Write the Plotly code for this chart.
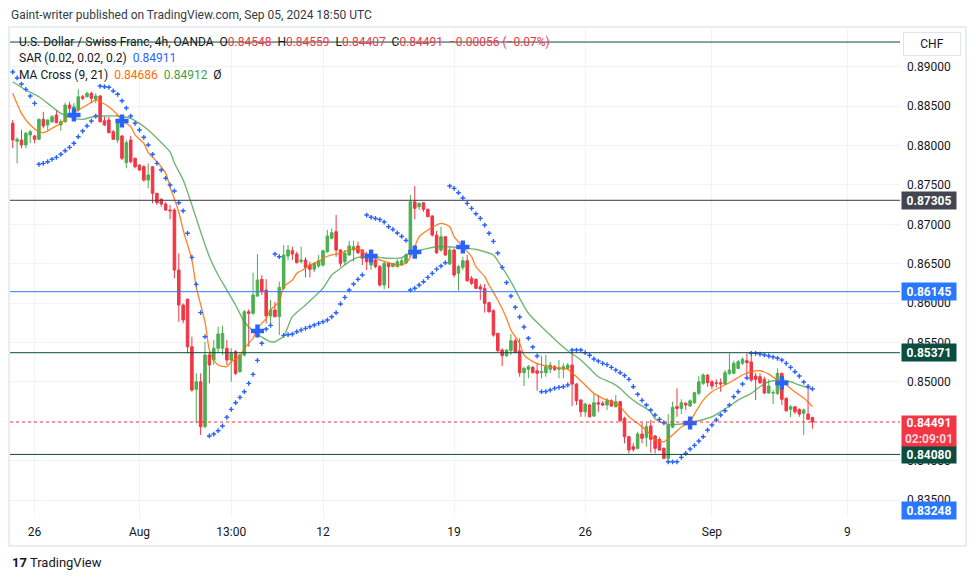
import plotly.graph_objects as go

# ---------------- data (USD/CHF 4h, OANDA) ----------------
# bar index: 0 = Aug 12 01:00 UTC candle, 30 candles per trading week
bar_index = list(range(-71, 113))

opens = [
    0.88282, 0.88053, 0.88070, 0.88007, 0.88134, 0.88121, 0.88079, 0.88332, 0.88260, 0.88302,
    0.88387, 0.88260, 0.88302, 0.88514, 0.88349, 0.88450, 0.88619, 0.88619, 0.88662, 0.88586,
    0.88628, 0.88315, 0.88324, 0.88175, 0.88070, 0.88121, 0.87782, 0.88070, 0.87838, 0.87752,
    0.87731, 0.87562, 0.87731, 0.87393, 0.87317, 0.87257, 0.87181, 0.87181, 0.86420, 0.85976,
    0.86048, 0.85447, 0.84906, 0.85002, 0.84432, 0.85342, 0.85278, 0.85427, 0.85427, 0.85427,
    0.85278, 0.85383, 0.85130, 0.85342, 0.85891, 0.85870, 0.86090, 0.86302, 0.86166, 0.85837,
    0.85913, 0.85828, 0.86188, 0.86598, 0.86665, 0.86623, 0.86526, 0.86547, 0.86484, 0.86429,
    0.86471, 0.86484, 0.86652, 0.86822, 0.86907, 0.86674, 0.86526, 0.86611, 0.86674, 0.86725,
    0.86674, 0.86611, 0.86484, 0.86547, 0.86463, 0.86230, 0.86505, 0.86463, 0.86463, 0.86484,
    0.86513, 0.86611, 0.87286, 0.87223, 0.87274, 0.87190, 0.87105, 0.86864, 0.86674, 0.86843,
    0.86496, 0.86674, 0.86378, 0.86454, 0.86538, 0.86315, 0.86302, 0.86208, 0.86188, 0.86005,
    0.85904, 0.85617, 0.85405, 0.85332, 0.85396, 0.85523, 0.85396, 0.85117, 0.85160, 0.85185,
    0.85142, 0.85117, 0.85117, 0.85160, 0.85193, 0.85160, 0.85160, 0.85173, 0.85214, 0.84973,
    0.84770, 0.84621, 0.84707, 0.84567, 0.84736, 0.84728, 0.84707, 0.84761, 0.84685, 0.84749,
    0.84538, 0.84305, 0.84178, 0.84157, 0.84339, 0.84297, 0.84441, 0.84314, 0.84272, 0.84157,
    0.84030, 0.84424, 0.84685, 0.84664, 0.84728, 0.84694, 0.84736, 0.84855, 0.84982, 0.85088,
    0.85002, 0.84990, 0.84990, 0.84973, 0.85109, 0.85109, 0.85172, 0.85236, 0.85269, 0.85253,
    0.85075, 0.85066, 0.85033, 0.84859, 0.84859, 0.84855, 0.85109, 0.84791, 0.84652, 0.84685,
    0.84652, 0.84601, 0.84592, 0.84548,
]
highs = [
    0.88324, 0.88104, 0.88197, 0.88175, 0.88197, 0.88134, 0.88345, 0.88428, 0.88332, 0.88387,
    0.88450, 0.88332, 0.88543, 0.88555, 0.88539, 0.88713, 0.88641, 0.88683, 0.88683, 0.88662,
    0.88641, 0.88365, 0.88365, 0.88197, 0.88302, 0.88134, 0.88070, 0.88121, 0.87845, 0.87761,
    0.87752, 0.87774, 0.87740, 0.87401, 0.87330, 0.87286, 0.87245, 0.87203, 0.86632, 0.85997,
    0.86061, 0.85574, 0.85109, 0.85109, 0.85510, 0.85383, 0.85532, 0.85700, 0.85713, 0.85532,
    0.85427, 0.85405, 0.85363, 0.85913, 0.85921, 0.86386, 0.86623, 0.86357, 0.86302, 0.86039,
    0.86018, 0.86272, 0.86737, 0.86737, 0.86716, 0.86652, 0.86716, 0.86581, 0.86526, 0.86522,
    0.86611, 0.86674, 0.86928, 0.86949, 0.87118, 0.86687, 0.86674, 0.86792, 0.86792, 0.86780,
    0.86683, 0.86652, 0.86611, 0.86581, 0.86484, 0.86526, 0.86513, 0.86509, 0.86556, 0.86581,
    0.86632, 0.87372, 0.87486, 0.87274, 0.87283, 0.87203, 0.87118, 0.86919, 0.86970, 0.86852,
    0.86708, 0.86695, 0.86484, 0.86589, 0.86611, 0.86344, 0.86315, 0.86242, 0.86242, 0.86018,
    0.85921, 0.85621, 0.85427, 0.85414, 0.85608, 0.85554, 0.85554, 0.85193, 0.85214, 0.85202,
    0.85236, 0.85329, 0.85341, 0.85253, 0.85214, 0.85278, 0.85236, 0.85240, 0.85405, 0.84986,
    0.84783, 0.84736, 0.84719, 0.84846, 0.84834, 0.84757, 0.84795, 0.84779, 0.84834, 0.84761,
    0.84558, 0.84314, 0.84221, 0.84368, 0.84483, 0.84483, 0.84517, 0.84327, 0.84297, 0.84170,
    0.84592, 0.84749, 0.84918, 0.84779, 0.84749, 0.84779, 0.84876, 0.85075, 0.85109, 0.85096,
    0.85024, 0.85033, 0.85045, 0.85151, 0.85363, 0.85269, 0.85278, 0.85312, 0.85363, 0.85342,
    0.85113, 0.85109, 0.85066, 0.85033, 0.84897, 0.85172, 0.85117, 0.84804, 0.84707, 0.84694,
    0.84664, 0.84664, 0.84918, 0.84559,
]
lows = [
    0.87965, 0.87774, 0.87965, 0.87965, 0.88032, 0.88028, 0.88070, 0.88219, 0.88197, 0.88282,
    0.88282, 0.88188, 0.88290, 0.88374, 0.88324, 0.88428, 0.88577, 0.88611, 0.88535, 0.88535,
    0.88290, 0.88248, 0.88155, 0.88070, 0.88032, 0.87816, 0.87711, 0.87774, 0.87711, 0.87676,
    0.87540, 0.87457, 0.87266, 0.87245, 0.87223, 0.87172, 0.87063, 0.86315, 0.85764, 0.85744,
    0.85363, 0.84875, 0.84475, 0.84327, 0.84412, 0.84982, 0.85215, 0.85363, 0.85342, 0.85215,
    0.85002, 0.85088, 0.85117, 0.85320, 0.85447, 0.85849, 0.86081, 0.86103, 0.85744, 0.85744,
    0.85820, 0.85595, 0.86166, 0.86547, 0.86547, 0.86505, 0.86505, 0.86327, 0.86327, 0.86395,
    0.86446, 0.86463, 0.86640, 0.86810, 0.86589, 0.86463, 0.86484, 0.86598, 0.86526, 0.86623,
    0.86484, 0.86420, 0.86420, 0.86442, 0.86208, 0.86175, 0.86188, 0.86454, 0.86454, 0.86471,
    0.86496, 0.86581, 0.87063, 0.87181, 0.87160, 0.87089, 0.86843, 0.86623, 0.86652, 0.86598,
    0.86484, 0.86327, 0.86157, 0.86420, 0.86272, 0.86230, 0.86175, 0.86039, 0.85879, 0.85879,
    0.85574, 0.85383, 0.85202, 0.85320, 0.85342, 0.85363, 0.85066, 0.84948, 0.85046, 0.85109,
    0.84888, 0.85046, 0.85066, 0.85113, 0.85138, 0.85046, 0.85046, 0.85160, 0.84694, 0.84707,
    0.84558, 0.84558, 0.84550, 0.84554, 0.84621, 0.84694, 0.84643, 0.84685, 0.84677, 0.84495,
    0.84221, 0.84094, 0.84115, 0.84144, 0.84221, 0.84178, 0.84102, 0.84094, 0.84127, 0.84018,
    0.83975, 0.84412, 0.84558, 0.84592, 0.84643, 0.84685, 0.84719, 0.84834, 0.84961, 0.84939,
    0.84906, 0.84931, 0.84875, 0.84961, 0.85088, 0.85100, 0.85160, 0.85215, 0.85066, 0.85002,
    0.84770, 0.84973, 0.84846, 0.84850, 0.84719, 0.84834, 0.84707, 0.84621, 0.84550, 0.84592,
    0.84558, 0.84327, 0.84517, 0.84407,
]
closes = [
    0.88070, 0.88079, 0.88007, 0.88155, 0.88175, 0.88079, 0.88332, 0.88248, 0.88324, 0.88365,
    0.88290, 0.88302, 0.88514, 0.88472, 0.88492, 0.88619, 0.88599, 0.88662, 0.88599, 0.88628,
    0.88302, 0.88260, 0.88163, 0.88079, 0.88282, 0.87838, 0.88036, 0.87794, 0.87731, 0.87689,
    0.87562, 0.87626, 0.87393, 0.87274, 0.87257, 0.87181, 0.87172, 0.86420, 0.85976, 0.85786,
    0.85447, 0.84897, 0.85002, 0.84432, 0.85342, 0.85215, 0.85427, 0.85608, 0.85617, 0.85278,
    0.85363, 0.85109, 0.85342, 0.85891, 0.85870, 0.86103, 0.86293, 0.86145, 0.85837, 0.85913,
    0.85828, 0.86200, 0.86611, 0.86674, 0.86623, 0.86513, 0.86547, 0.86454, 0.86429, 0.86505,
    0.86538, 0.86665, 0.86852, 0.86894, 0.86674, 0.86505, 0.86632, 0.86725, 0.86716, 0.86640,
    0.86569, 0.86526, 0.86569, 0.86463, 0.86230, 0.86505, 0.86463, 0.86505, 0.86526, 0.86538,
    0.86611, 0.87286, 0.87203, 0.87266, 0.87190, 0.87097, 0.86864, 0.86640, 0.86843, 0.86611,
    0.86674, 0.86357, 0.86463, 0.86538, 0.86284, 0.86251, 0.86188, 0.86179, 0.85997, 0.85891,
    0.85595, 0.85396, 0.85332, 0.85405, 0.85523, 0.85376, 0.85117, 0.85173, 0.85193, 0.85117,
    0.85109, 0.85129, 0.85193, 0.85214, 0.85160, 0.85173, 0.85193, 0.85214, 0.84973, 0.84761,
    0.84621, 0.84719, 0.84558, 0.84736, 0.84719, 0.84707, 0.84761, 0.84694, 0.84749, 0.84508,
    0.84305, 0.84136, 0.84144, 0.84339, 0.84284, 0.84432, 0.84272, 0.84157, 0.84136, 0.84030,
    0.84453, 0.84677, 0.84664, 0.84736, 0.84707, 0.84761, 0.84863, 0.85002, 0.85088, 0.84990,
    0.84948, 0.84982, 0.84973, 0.85117, 0.85151, 0.85236, 0.85257, 0.85287, 0.85244, 0.85024,
    0.85033, 0.84990, 0.84859, 0.84948, 0.84863, 0.85109, 0.84779, 0.84634, 0.84685, 0.84621,
    0.84592, 0.84643, 0.84526, 0.84491,
]

# Parabolic SAR (0.02, 0.02, 0.2), one value per bar
sar_values = [
    0.88933, 0.88857, 0.88780, 0.88713, 0.88628, 0.88535, 0.87762, 0.87774, 0.87795, 0.87825,
    0.87850, 0.87889, 0.87934, 0.87977, 0.88028, 0.88112, 0.88184, 0.88248, 0.88311, 0.88374,
    0.88755, 0.88746, 0.88739, 0.88692, 0.88650, 0.88568, 0.88476, 0.88374, 0.88282, 0.88197,
    0.88104, 0.88007, 0.87889, 0.87774, 0.87689, 0.87584, 0.87499, 0.87423, 0.87274, 0.87172,
    0.86886, 0.86581, 0.86238, 0.85879, 0.85574, 0.84314, 0.84339, 0.84381, 0.84441, 0.84551,
    0.84652, 0.84736, 0.84804, 0.84876, 0.84982, 0.85096, 0.85274, 0.85490, 0.85671, 0.85718,
    0.86623, 0.86589, 0.85591, 0.85599, 0.85608, 0.85637, 0.85659, 0.85680, 0.85700, 0.85722,
    0.85743, 0.85763, 0.85785, 0.85827, 0.85878, 0.85989, 0.86073, 0.86166, 0.86242, 0.86302,
    0.86357, 0.87118, 0.87089, 0.87074, 0.87061, 0.87029, 0.86970, 0.86935, 0.86890, 0.86846,
    0.86795, 0.86166, 0.86188, 0.86230, 0.86272, 0.86327, 0.86378, 0.86432, 0.86471, 0.86513,
    0.87486, 0.87456, 0.87401, 0.87334, 0.87266, 0.87203, 0.87134, 0.87076, 0.86991, 0.86886,
    0.86784, 0.86636, 0.86454, 0.86261, 0.86090, 0.85947, 0.85824, 0.85697, 0.85554, 0.85443,
    0.85329, 0.84876, 0.84878, 0.84897, 0.84918, 0.84931, 0.84939, 0.84961, 0.85405, 0.85405,
    0.85405, 0.85371, 0.85338, 0.85291, 0.85265, 0.85236, 0.85219, 0.85185, 0.85151, 0.85117,
    0.85081, 0.85033, 0.84939, 0.84843, 0.84766, 0.84707, 0.84643, 0.84580, 0.84525, 0.84482,
    0.83987, 0.83987, 0.83987, 0.84043, 0.84094, 0.84148, 0.84195, 0.84250, 0.84305, 0.84390,
    0.84453, 0.84517, 0.84580, 0.84635, 0.84707, 0.84812, 0.84876, 0.84973, 0.85050, 0.85363,
    0.85363, 0.85354, 0.85342, 0.85329, 0.85316, 0.85300, 0.85278, 0.85236, 0.85185, 0.85130,
    0.85075, 0.84999, 0.84942, 0.84911,
]

ma_fast_x = [-71, -69, -67, -65, -64, -62, -60, -58, -56, -54, -52, -51, -49, -47, -46, -44, -43,
             -41, -40, -38, -36, -35, -34, -33, -32, -30, -29, -27, -26, -25, -24, -22, -21, -19,
             -18, -16, -15, -13, -12, -10, -9, -7, -6, -4, -3, -1, 0, 2, 4, 6, 8, 10, 12, 15, 17,
             19, 20, 21, 22, 24, 26, 27, 29, 30, 32, 34, 35, 37, 38, 40, 42, 43, 45, 46, 48, 50,
             53, 55, 56, 58, 60, 62, 64, 66, 68, 70, 72, 74, 76, 78, 80, 82, 84, 85, 87, 89, 92,
             94, 96, 98, 100, 102, 104, 106, 108, 110, 111, 112]
ma_fast_y = [0.88662, 0.88408, 0.88260, 0.88175, 0.88163, 0.88219, 0.88282, 0.88387, 0.88450,
             0.88514, 0.88577, 0.88555, 0.88492, 0.88387, 0.88315, 0.88239, 0.88134, 0.88028,
             0.87909, 0.87794, 0.87647, 0.87473, 0.87321, 0.87156, 0.86928, 0.86547, 0.86204,
             0.85760, 0.85405, 0.85278, 0.85215, 0.85193, 0.85257, 0.85320, 0.85427, 0.85554,
             0.85681, 0.85808, 0.85913, 0.86018, 0.86208, 0.86293, 0.86378, 0.86442, 0.86484,
             0.86526, 0.86569, 0.86611, 0.86632, 0.86674, 0.86695, 0.86611, 0.86569, 0.86513,
             0.86484, 0.86505, 0.86589, 0.86716, 0.86843, 0.86928, 0.86991, 0.87013, 0.86970,
             0.86843, 0.86716, 0.86589, 0.86462, 0.86335, 0.86230, 0.86039, 0.85808, 0.85659,
             0.85490, 0.85342, 0.85257, 0.85215, 0.85185, 0.85173, 0.85160, 0.85066, 0.84961,
             0.84855, 0.84792, 0.84749, 0.84685, 0.84558, 0.84475, 0.84390, 0.84263, 0.84241,
             0.84327, 0.84428, 0.84495, 0.84592, 0.84770, 0.84876, 0.84961, 0.85024, 0.85088,
             0.85130, 0.85142, 0.85100, 0.85024, 0.84961, 0.84872, 0.84796, 0.84745, 0.84686]

ma_slow_x = [-71, -68, -65, -62, -60, -57, -55, -53, -50, -47, -44, -42, -40, -38, -35, -34, -32,
             -30, -28, -26, -24, -22, -20, -18, -16, -14, -12, -11, -9, -7, -4, -2, 0, 2, 4, 6, 8,
             11, 13, 15, 18, 19, 21, 24, 26, 28, 31, 33, 35, 37, 39, 40, 43, 45, 47, 50, 52, 54,
             56, 59, 61, 63, 66, 68, 70, 72, 75, 76, 79, 82, 84, 86, 89, 91, 93, 95, 98, 100, 102,
             105, 107, 109, 112]
ma_slow_y = [0.88809, 0.88704, 0.88619, 0.88492, 0.88408, 0.88345, 0.88332, 0.88358, 0.88374,
             0.88374, 0.88345, 0.88282, 0.88197, 0.88092, 0.87918, 0.87778, 0.87562, 0.87245,
             0.86906, 0.86589, 0.86357, 0.86166, 0.85976, 0.85764, 0.85646, 0.85570, 0.85510,
             0.85510, 0.85583, 0.85828, 0.85976, 0.86081, 0.86188, 0.86357, 0.86442, 0.86526,
             0.86581, 0.86589, 0.86581, 0.86569, 0.86577, 0.86611, 0.86652, 0.86695, 0.86716,
             0.86716, 0.86708, 0.86695, 0.86683, 0.86652, 0.86611, 0.86535, 0.86272, 0.86061,
             0.85871, 0.85701, 0.85595, 0.85490, 0.85396, 0.85278, 0.85172, 0.85066, 0.84990,
             0.84918, 0.84812, 0.84728, 0.84622, 0.84529, 0.84462, 0.84466, 0.84483, 0.84508,
             0.84558, 0.84622, 0.84694, 0.84770, 0.84855, 0.84939, 0.85002, 0.85024, 0.85002,
             0.84961, 0.84912]

cross_x = [-57, -46, -15, 11, 21, 32, 84, 105]
cross_y = [0.88387, 0.88311, 0.85646, 0.86598, 0.86648, 0.86712, 0.84479, 0.84987]

# horizontal drawings (price, line colour, label colour, label shown)
level_prices = [0.89313, 0.87305, 0.86145, 0.85371, 0.84080]
level_line_colors = ["#0b4d3e", "#363a45", "#2979ff", "#0b4d3e", "#0b4d3e"]
level_label_colors = [None, "#434651", "#2979ff", "#0b4d3e", "#0b4d3e"]
offscreen_level = 0.83248
last_price = 0.84491
countdown = "02:09:01"

time_tick_bars = [-66, -42, -21, 0, 30, 60, 89, 120]
time_tick_text = ["26", "Aug", "13:00", "12", "19", "26", "Sep", "9"]
price_ticks = [0.835, 0.840, 0.845, 0.850, 0.855, 0.860, 0.865, 0.870, 0.875, 0.880, 0.885, 0.890]

# ---------------- layout geometry ----------------
W_FIG, H_FIG = 976, 580
L, R, T, B = 10, 900, 27, 517
PW, PH = R - L, B - T
FONT = "Roboto, Arial, sans-serif"
TXT = "#131722"


def px(x):
    return (x - L) / PW


def py(y):
    return (B - y) / PH


fig = go.Figure()

fig.add_trace(go.Candlestick(
    x=bar_index, open=opens, high=highs, low=lows, close=closes,
    increasing=dict(line=dict(color="#4caf50", width=1), fillcolor="#4caf50"),
    decreasing=dict(line=dict(color="#f23645", width=1), fillcolor="#f23645"),
    whiskerwidth=0, showlegend=False, hoverinfo="skip",
))

fig.add_trace(go.Scatter(
    x=ma_slow_x, y=ma_slow_y, mode="lines", showlegend=False, hoverinfo="skip",
    line=dict(color="#43a047", width=1.4, shape="spline", smoothing=0.7), opacity=0.75,
))
fig.add_trace(go.Scatter(
    x=ma_fast_x, y=ma_fast_y, mode="lines", showlegend=False, hoverinfo="skip",
    line=dict(color="#ff6d00", width=1.3, shape="spline", smoothing=0.7), opacity=0.85,
))

fig.add_trace(go.Scatter(
    x=bar_index, y=sar_values, mode="markers", showlegend=False, hoverinfo="skip",
    marker=dict(symbol="cross-thin", size=3.4, color="#2962ff",
                line=dict(color="#2962ff", width=1.4)),
))

fig.add_trace(go.Scatter(
    x=cross_x, y=cross_y, mode="markers", showlegend=False, hoverinfo="skip",
    marker=dict(symbol="cross", size=11, color="#2962ff", line=dict(width=0)),
))

shapes = []
for p, c in zip(level_prices, level_line_colors):
    shapes.append(dict(type="line", xref="paper", yref="y", x0=0, x1=1, y0=p, y1=p,
                       line=dict(color=c, width=1), layer="above"))
shapes.append(dict(type="line", xref="paper", yref="y", x0=0, x1=1, y0=last_price, y1=last_price,
                   line=dict(color="#f23645", width=1, dash="dot"), layer="above"))
# outer frame
shapes.append(dict(type="rect", xref="paper", yref="paper", x0=px(9), x1=px(966),
                   y0=py(546), y1=py(27), line=dict(color="#e9ecf2", width=2),
                   fillcolor="rgba(0,0,0,0)", layer="below"))

annotations = []
# header
annotations.append(dict(
    xref="paper", yref="paper", x=px(9), y=py(15), xanchor="left", yanchor="middle",
    text="Gaint-writer published on TradingView.com, Sep 05, 2024 18:50 UTC",
    showarrow=False, font=dict(family=FONT, size=12, color="#363a45")))

red = "#f23645"
nb = "\u00a0"
row1 = ("U.S. Dollar / Swiss Franc, 4h, OANDA" + nb * 2 +
        "O<span style='color:%s'>%.5f</span>" % (red, opens[-1]) + nb * 2 +
        "H<span style='color:%s'>%.5f</span>" % (red, highs[-1]) + nb * 2 +
        "L<span style='color:%s'>%.5f</span>" % (red, lows[-1]) + nb * 2 +
        "C<span style='color:%s'>%.5f</span>" % (red, closes[-1]) + nb * 2 +
        "<span style='color:%s'>\u22120.00056 (\u22120.07%%)</span>" % red)
row2 = ("SAR (0.02, 0.02, 0.2)" + nb * 2 +
        "<span style='color:#2962ff'>%.5f</span>" % sar_values[-1])
row3 = ("MA Cross (9, 21)" + nb * 2 +
        "<span style='color:#ff6d00'>%.5f</span>" % ma_fast_y[-1] + nb * 2 +
        "<span style='color:#43a047'>%.5f</span>" % ma_slow_y[-1] + nb * 2 + "\u00d8")
for txt, yy in [(row1, 42), (row2, 58), (row3, 75)]:
    annotations.append(dict(
        xref="paper", yref="paper", x=px(17), y=py(yy), xanchor="left", yanchor="middle",
        text=txt, showarrow=False, font=dict(family=FONT, size=12, color=TXT)))

# price-scale labels for drawings
for p, c in zip(level_prices, level_label_colors):
    if c is None:
        continue
    annotations.append(dict(
        xref="paper", yref="y", x=1, y=p, xanchor="left", yanchor="middle", xshift=1,
        text="<b>%.5f</b>" % p, showarrow=False, bgcolor=c, width=50, height=13, borderpad=2,
        font=dict(family=FONT, size=12, color="white")))
annotations.append(dict(
    xref="paper", yref="paper", x=1, y=py(510), xanchor="left", yanchor="middle", xshift=1,
    text="<b>%.5f</b>" % offscreen_level, showarrow=False, bgcolor="#2979ff", width=50,
    height=13, borderpad=2, font=dict(family=FONT, size=12, color="white")))
annotations.append(dict(
    xref="paper", yref="y", x=1, y=last_price, xanchor="left", yanchor="top", xshift=1, yshift=7,
    text="<b>%.5f</b><br><span style='color:#ffd6da'><b>%s</b></span>" % (last_price, countdown),
    showarrow=False, bgcolor="#f23645", width=50, height=26, borderpad=2,
    font=dict(family=FONT, size=12, color="white")))

# CHF currency button
annotations.append(dict(
    xref="paper", yref="paper", x=px(932), y=py(44), xanchor="center", yanchor="middle",
    text="CHF", showarrow=False, bgcolor="white", bordercolor="#e0e3eb", borderwidth=1,
    width=52, height=18, borderpad=2, font=dict(family=FONT, size=12, color=TXT)))

# TradingView footer
annotations.append(dict(
    xref="paper", yref="paper", x=px(10), y=py(562), xanchor="left", yanchor="middle",
    text="<b>17</b> TradingView", showarrow=False,
    font=dict(family=FONT, size=13, color=TXT)))

fig.update_layout(
    width=W_FIG, height=H_FIG, autosize=False,
    margin=dict(l=L, r=W_FIG - R, t=T, b=H_FIG - B, pad=0),
    paper_bgcolor="white", plot_bgcolor="white",
    showlegend=False, boxgap=0.42, boxgroupgap=0,
    shapes=shapes, annotations=annotations,
    font=dict(family=FONT, size=12, color=TXT),
    xaxis=dict(
        range=[(L - 323) / 4.37, (R - 323) / 4.37],
        tickmode="array", tickvals=time_tick_bars, ticktext=time_tick_text,
        showgrid=True, gridcolor="#f0f3fa", gridwidth=1, zeroline=False, showline=False,
        ticks="", ticklabelstandoff=6, tickfont=dict(family=FONT, size=12, color=TXT),
        rangeslider=dict(visible=False), fixedrange=True,
    ),
    yaxis=dict(
        side="right", range=[0.83286, 0.89504],
        tickmode="array", tickvals=price_ticks, tickformat=".5f",
        showgrid=True, gridcolor="#f0f3fa", gridwidth=1, zeroline=False, showline=False,
        ticks="", ticklabelstandoff=6, tickfont=dict(family=FONT, size=12, color=TXT),
        fixedrange=True,
    ),
)

fig.write_html("out.html")
